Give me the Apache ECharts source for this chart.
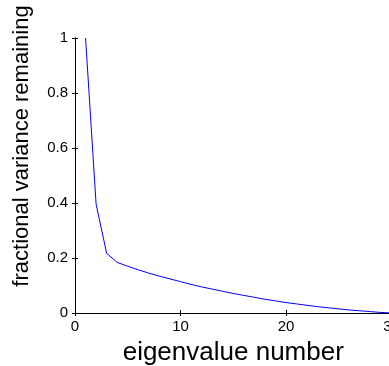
<!DOCTYPE html>
<html>
<head>
<meta charset="utf-8">
<script src="https://cdn.jsdelivr.net/npm/echarts@6/dist/echarts.min.js"></script>
<style>html,body{margin:0;padding:0;background:#fff}#c{width:389px;height:366px}</style>
</head>
<body>
<div id="c"></div>
<script>
const eigenNumber = [1,2,3,4,5,6,7,8,9,10,11,12,13,14,15,16,17,18,19,20,21,22,23,24,25,26,27,28,29,30];
const fracRemaining = [1.0,0.396,0.217,0.184,0.170,0.157,0.145,0.134,0.124,0.114,0.104,0.095,0.087,0.079,0.071,0.064,0.057,0.050,0.044,0.038,0.033,0.028,0.023,0.019,0.015,0.011,0.008,0.005,0.002,0.0];
const xTicks = [0,10,20,30];
const yTicks = [0,0.2,0.4,0.6,0.8,1];
const xTitle = 'eigenvalue number';
const yTitle = 'fractional variance remaining';

const FONT = 'Liberation Sans, Arial, Helvetica, sans-serif';
const chart = echarts.init(document.getElementById('c'), null, {renderer:'canvas'});
const axisLine = {show:true, lineStyle:{color:'#000', width:1}};
const tick = {show:true, inside:true, length:3, lineStyle:{color:'#000', width:1}};
chart.setOption({
  animation:false,
  backgroundColor:'#fff',
  grid:{left:75, top:38, width:316.5, height:275, containLabel:false, outerBoundsMode:'none'},
  xAxis:[{
    type:'value', min:xTicks[0], max:xTicks[xTicks.length-1], interval:10,
    axisLine:axisLine, axisTick:tick, splitLine:{show:false},
    axisLabel:{color:'#000', fontFamily:FONT, fontSize:15, margin:6,
      formatter:v=>xTicks.includes(v)?String(v):''},
    name:xTitle, nameLocation:'middle', nameGap:27,
    nameTextStyle:{color:'#000', fontFamily:FONT, fontSize:26}
  },{
    type:'value', position:'top', min:0, max:30, interval:10,
    axisLine:axisLine, axisTick:tick, axisLabel:{show:false}, splitLine:{show:false}
  }],
  yAxis:[{
    type:'value', min:0, max:1, interval:0.2,
    axisLine:axisLine, axisTick:tick, splitLine:{show:false},
    axisLabel:{color:'#000', fontFamily:FONT, fontSize:15, margin:7,
      formatter:v=>String(+v.toFixed(1))}
  },{
    type:'value', position:'right', min:0, max:1, interval:0.2,
    axisLine:axisLine, axisTick:tick, axisLabel:{show:false}, splitLine:{show:false}
  }],
  graphic:[{
    type:'text', x:33, y:146, rotation:Math.PI/2,
    style:{text:yTitle, fill:'#000', font:'22px '+FONT, align:'center', verticalAlign:'bottom'}
  }],
  series:[{
    type:'line', xAxisIndex:0, yAxisIndex:0,
    data:eigenNumber.map((x,i)=>[x, fracRemaining[i]]),
    showSymbol:false, symbol:'none',
    lineStyle:{color:'#0000ff', width:1}, clip:true
  }]
});
</script>
</body>
</html>
